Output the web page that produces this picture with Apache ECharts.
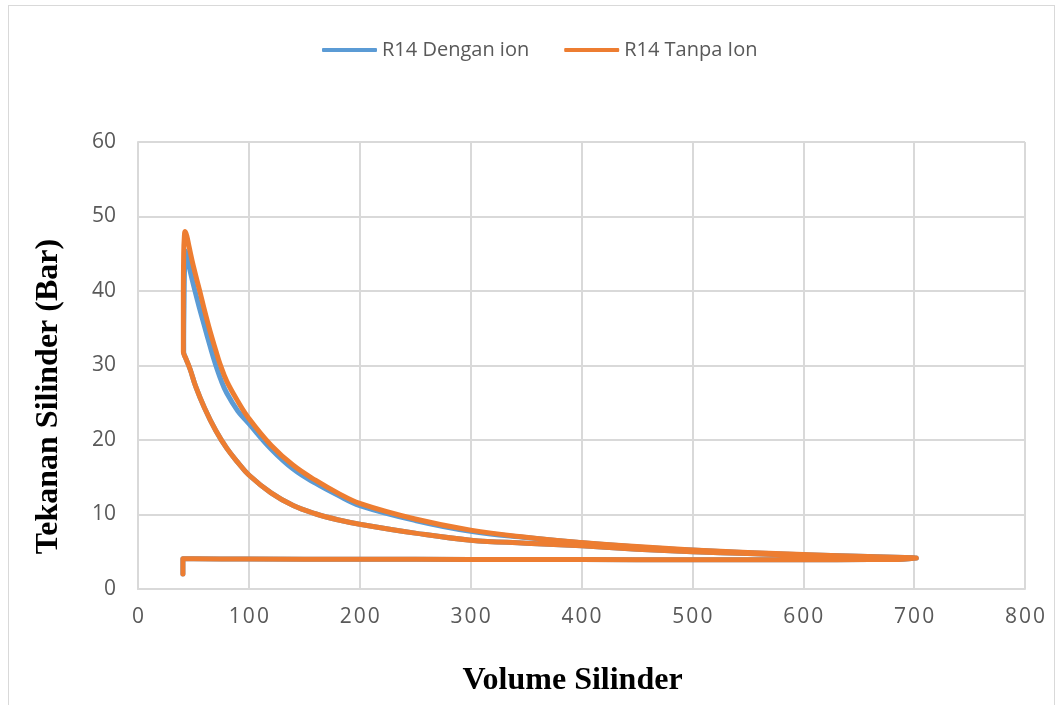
<!DOCTYPE html>
<html>
<head>
<meta charset="utf-8">
<script src="https://cdn.jsdelivr.net/npm/echarts@6/dist/echarts.min.js"></script>
<style>
html,body{margin:0;padding:0;background:#fff;}
#frame{position:absolute;left:8px;top:5px;width:1047px;height:710px;border:1px solid #d9d9d9;box-sizing:border-box;}
#chart{position:absolute;left:0;top:0;width:1059px;height:705px;}
</style>
</head>
<body>
<div id="frame"></div>
<div id="chart"></div>
<script>
// nilai: [volume, tekanan]
var ionIntake = [[40.5,2.0],[40.5,4.05],[50,4.05],[100,4.02],[200,4.0],[300,3.97],[400,3.95],[500,3.93],[600,3.92],[660,3.95],[690,4.0],[702,4.15]];
var ionCompress = [[700,4.15],[650,4.3],[600,4.5],[550,4.75],[500,5.0],[450,5.35],[400,5.8],[350,6.15],[300,6.55],[250,7.5],[200,8.7],[180,9.3],[160,10.1],[140,11.2],[120,12.9],[100,15.3],[90,17.0],[80,18.9],[70,21.3],[60,24.3],[52,27.2],[47,29.5],[43,31.0],[41.2,31.8]];
var ionCombust = [[41.2,33],[41.5,38],[42,43],[42.9,45.4]];
var ionExpand = [[44,44.8],[47,42.7],[51.4,40],[55,37.95],[60,35.25],[65,32.6],[69.4,30.4],[75,28],[80,26.3],[90,23.9],[100,22.2],[120,18.8],[140,16.1],[160,14.2],[180,12.6],[200,11.2],[250,9.2],[300,7.75],[350,6.9],[400,6.2],[450,5.65],[500,5.22],[550,4.88],[600,4.61],[650,4.4],[700,4.2]];

var tanpaIntake = [[40.5,2.0],[40.5,4.05],[50,4.05],[100,4.02],[200,4.0],[300,3.97],[400,3.95],[500,3.93],[600,3.92],[660,3.95],[690,4.0],[702,4.15]];
var tanpaCompress = [[700,4.15],[650,4.3],[600,4.5],[550,4.75],[500,5.0],[450,5.35],[400,5.8],[350,6.15],[300,6.55],[250,7.5],[200,8.7],[180,9.3],[160,10.1],[140,11.2],[120,12.9],[100,15.3],[90,17.0],[80,18.9],[70,21.3],[60,24.3],[52,27.2],[47,29.5],[43,31.0],[40.9,31.8]];
var tanpaCombust = [[40.9,33],[40.9,40],[41.2,45],[41.8,47.3],[42.5,48],[44,47.4]];
var tanpaExpand = [[46,46.0],[50,43.3],[55.7,40],[60,37.4],[65,34.6],[70,32.1],[74,30.2],[80,27.9],[90,25.2],[100,22.9],[120,19.3],[140,16.6],[160,14.6],[180,12.9],[200,11.5],[250,9.4],[300,7.9],[350,6.95],[400,6.25],[450,5.7],[500,5.25],[550,4.9],[600,4.62],[650,4.4],[700,4.2]];

var ionData = ionIntake.concat(ionCompress, ionCombust, ionExpand);
var tanpaData = tanpaIntake.concat(tanpaCompress, tanpaCombust, tanpaExpand);

// label sumbu x dengan jarak antar huruf
function spaced(v) {
    return String(v).split('').join('\u200a');
}

var chart = echarts.init(document.getElementById('chart'));
var option = {
    animation: false,
    legend: {
        top: 35,
        left: 317,
        icon: 'roundRect',
        itemWidth: 55,
        itemHeight: 4,
        itemGap: 35,
        textStyle: {color: '#595959', fontSize: 20, fontFamily: 'Open Sans'},
        data: ['R14 Dengan ion', 'R14 Tanpa Ion']
    },
    grid: {left: 138, right: 34, top: 142, bottom: 116},
    xAxis: {
        type: 'value',
        min: 0, max: 800, interval: 100,
        name: 'Volume Silinder',
        nameLocation: 'middle',
        nameGap: 76,
        nameTextStyle: {color: '#000', fontSize: 32, fontWeight: 'bold', fontFamily: 'Liberation Serif', padding: [0, 18, 0, 0]},
        axisLine: {show: true, lineStyle: {color: '#d9d9d9', width: 2}},
        axisTick: {show: false},
        splitLine: {show: true, lineStyle: {color: '#d9d9d9', width: 2}},
        axisLabel: {color: '#595959', fontSize: 21, fontFamily: 'Open Sans', margin: 18, formatter: spaced}
    },
    yAxis: {
        type: 'value',
        min: 0, max: 60, interval: 10,
        name: 'Tekanan Silinder (Bar)',
        nameLocation: 'middle',
        nameGap: 73,
        nameTextStyle: {color: '#000', fontSize: 32, fontWeight: 'bold', fontFamily: 'Liberation Serif', padding: [0, 62, 0, 0]},
        axisLine: {show: true, lineStyle: {color: '#d9d9d9', width: 2}},
        axisTick: {show: false},
        splitLine: {show: true, lineStyle: {color: '#d9d9d9', width: 2}},
        axisLabel: {color: '#595959', fontSize: 21, fontFamily: 'Open Sans', margin: 22}
    },
    series: [
        {
            name: 'R14 Dengan ion',
            type: 'line',
            symbol: 'none',
            smooth: 0.4,
            color: '#5B9BD5',
            lineStyle: {width: 5, color: '#5B9BD5', cap: 'round', join: 'round'},
            data: ionData
        },
        {
            name: 'R14 Tanpa Ion',
            type: 'line',
            symbol: 'none',
            smooth: 0.4,
            color: '#ED7D31',
            lineStyle: {width: 5, color: '#ED7D31', cap: 'round', join: 'round'},
            data: tanpaData
        }
    ]
};
chart.setOption(option);
</script>
</body>
</html>
